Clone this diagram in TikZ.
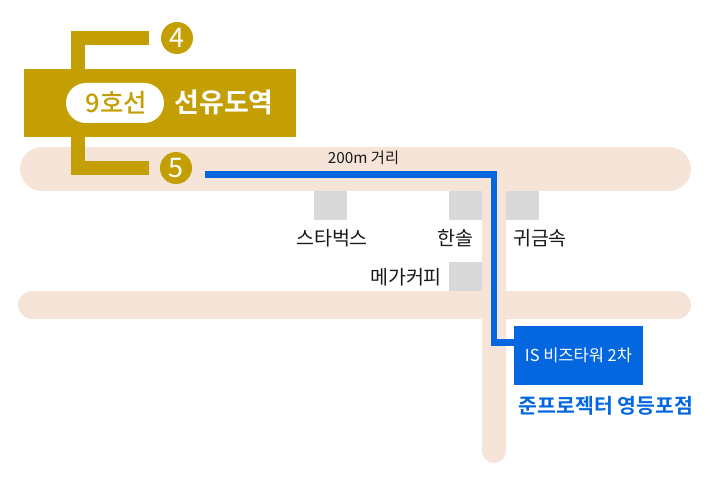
\documentclass[tikz,border=0pt]{standalone}
\usepackage{fontspec}
\setmainfont{Noto Sans CJK KR}
\newfontfamily\boldkr{Noto Sans CJK KR Bold}
\newfontfamily\mediumkr{Noto Sans CJK KR Medium}
\definecolor{station}{HTML}{C49F04}
\definecolor{road}{HTML}{F6E4D8}
\definecolor{shop}{HTML}{D9D9D9}
\definecolor{route}{HTML}{0467DF}
\tikzset{
  road/.style={fill=road,rounded corners=#1,inner sep=0pt},
  shop/.style={fill=shop,minimum width=33pt,minimum height=29pt,inner sep=0pt},
  shoplabel/.style={inner sep=0pt,text=black!90,font=\fontsize{19.5}{21}\selectfont},
  exit/.style={circle,fill=station,text=white,minimum size=32pt,inner sep=0pt,font=\fontsize{27}{29}\selectfont},
  gate/.style={draw=station,line width=14pt},
  routeline/.style={draw=route,line width=6.5pt},
}
\begin{document}
\begin{tikzpicture}[x=1pt,y=-1pt]
      \useasboundingbox (0,0) rectangle (725,486);
      % roads
      \node [road=12pt,minimum width=24pt,minimum height=300pt] (vroad) at (494,313) {};
      \node [road=22pt,minimum width=671pt,minimum height=44pt] (uproad) at (355.5,169) {};
      \node [road=14pt,minimum width=673pt,minimum height=28pt] (loroad) at (354.5,305) {};
      % shops
      \foreach \name/\x/\y in {star/330.5/205.5,hansol/465.5/205.5,gold/522.5/205.5,mega/465.5/276.5}
      {
        \node [shop] (\name) at (\x,\y) {};
      }
      \node [shoplabel] (starlabel) at (332,238.5) {스타벅스};
      \node [shoplabel] (hansollabel) at (455,238) {한솔};
      \node [shoplabel] (goldlabel) at (540,238.5) {귀금속};
      \node [shoplabel] (megalabel) at (406,277) {메가커피};
      % station
      \coordinate (gate4) at (149,38);
      \coordinate (gate5) at (149,168);
      \draw [gate] (gate4) -| (77.5,168) -- (gate5);
      \node [fill=station,minimum width=272pt,minimum height=68pt,inner sep=0pt] (station) at (160,103) {};
      \node [fill=white,rounded corners=20pt,minimum width=98pt,minimum height=40pt,inner sep=0pt] (line) at (115,103) {};
      \node [inner sep=0pt,text=station,font=\mediumkr\fontsize{25.5}{27}\selectfont] (linename) at (116.5,103) {9호선};
      \node [inner sep=0pt,text=white,font=\boldkr\fontsize{27}{29}\selectfont] (name) at (224,102) {선유도역};
      \node [exit] (exit4) at (177,38) {4};
      \node [exit] (exit5) at (176,168) {5};
      % route
      \node [fill=route,text=white,minimum width=129pt,minimum height=59pt,inner sep=0pt,font=\fontsize{16.5}{18}\selectfont] (office) at (578.5,355.5) {IS 비즈타워 2차};
      \coordinate (start) at (205,174.5);
      \coordinate (bend) at (494,342.5);
      \draw [routeline] (start) -| (bend) -- (bend -| office.west);
      \node [inner sep=0pt,text=black!90,font=\fontsize{15.3}{17}\selectfont] (dist) at (363.5,158) {200m 거리};
      \node [inner sep=0pt,text=route,font=\boldkr\fontsize{20.5}{22}\selectfont] (branch) at (606,406) {준프로젝터 영등포점};
    \end{tikzpicture}
\end{document}
